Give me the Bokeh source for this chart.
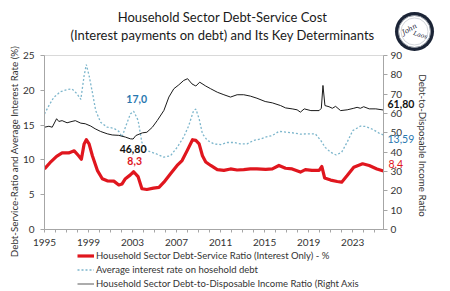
import numpy as np
from bokeh.plotting import figure
from bokeh.layouts import column
from bokeh.models import Range1d, LinearAxis, FixedTicker, Label, Legend, LegendItem
from bokeh.core.properties import value
from bokeh.embed import file_html
from bokeh.resources import INLINE

# ---- data -------------------------------------------------------------
dsr_years = [1995.0, 1995.5, 1996.1, 1996.6, 1997.2, 1997.7, 1998.1, 1998.35, 1998.6, 1998.8,
             1999.05, 1999.35, 1999.8, 2000.25, 2000.7, 2001.3, 2001.75, 2002.05, 2002.35, 2002.8,
             2003.1, 2003.5, 2003.85, 2004.3, 2004.9, 2005.4, 2005.85, 2006.45, 2007.05, 2007.5,
             2007.95, 2008.45, 2008.75, 2009.05, 2009.35, 2009.65, 2010.1, 2010.7, 2011.3, 2011.9,
             2012.5, 2013.1, 2013.7, 2014.3, 2015.1, 2015.7, 2016.3, 2016.9, 2017.5, 2018.25,
             2018.7, 2019.3, 2019.95, 2020.2, 2020.45, 2021.0, 2021.6, 2022.0, 2022.5, 2023.1,
             2023.9, 2024.5, 2025.2, 2025.8]
dsr = [8.7, 9.6, 10.5, 11.0, 11.0, 11.3, 10.6, 10.1, 12.3, 12.9,
       12.3, 10.6, 8.5, 7.3, 7.0, 6.95, 6.4, 6.55, 7.3, 7.85,
       8.3, 7.6, 5.85, 5.75, 5.95, 6.05, 6.8, 8.0, 9.2, 9.9,
       11.3, 12.9, 12.8, 12.3, 10.6, 9.7, 9.2, 8.6, 8.5, 8.7,
       8.55, 8.6, 8.7, 8.7, 8.65, 8.7, 9.2, 8.8, 8.7, 8.25,
       8.6, 8.5, 8.5, 9.05, 7.4, 7.1, 6.9, 6.8, 7.75, 8.95,
       9.45, 9.2, 8.7, 8.4]

rate_years = [1995.0, 1995.4, 1995.85, 1996.45, 1997.05, 1997.5, 1997.95, 1998.3, 1998.6, 1998.8,
              1999.05, 1999.35, 1999.65, 2000.1, 2000.7, 2001.3, 2001.75, 2002.05, 2002.35, 2002.8,
              2003.1, 2003.5, 2003.85, 2004.3, 2005.1, 2005.85, 2006.45, 2007.05, 2007.65, 2008.1,
              2008.55, 2008.75, 2009.05, 2009.35, 2009.8, 2010.4, 2011.0, 2011.6, 2012.2, 2012.8,
              2013.4, 2014.0, 2014.6, 2015.15, 2015.7, 2016.3, 2016.9, 2017.5, 2018.25, 2019.0,
              2019.6, 2020.1, 2020.5, 2021.0, 2021.5, 2022.0, 2022.5, 2023.0, 2023.7, 2024.2,
              2024.8, 2025.5, 2025.8]
rate = [16.6, 17.8, 19.0, 19.8, 20.1, 20.2, 19.5, 18.7, 22.1, 23.7,
        22.1, 19.7, 17.1, 15.4, 14.7, 14.55, 14.1, 13.3, 14.7, 16.6,
        17.0, 15.7, 12.5, 11.35, 10.9, 10.4, 10.6, 11.8, 13.3, 14.9,
        17.1, 17.3, 15.9, 13.75, 12.8, 12.3, 12.2, 12.5, 12.5, 12.3,
        12.3, 12.8, 13.0, 13.3, 13.5, 14.1, 14.0, 13.9, 13.7, 13.75,
        13.75, 12.8, 11.8, 11.1, 10.7, 11.1, 12.55, 14.2, 14.85, 14.8,
        14.4, 13.75, 13.59]

debt_years = [1995.0, 1995.4, 1995.7, 1996.1, 1996.3, 1996.6, 1997.05, 1997.5, 1997.8, 1998.3,
              1998.7, 1999.2, 1999.6, 2000.1, 2000.7, 2001.15, 2001.75, 2002.35, 2002.8, 2003.05,
              2003.3, 2003.9, 2004.3, 2004.8, 2005.25, 2005.85, 2006.3, 2006.75, 2007.2, 2007.65,
              2008.0, 2008.4, 2008.75, 2009.1, 2009.65, 2010.1, 2010.7, 2011.3, 2011.9, 2012.5,
              2013.1, 2013.7, 2014.3, 2015.05, 2015.7, 2016.45, 2016.9, 2017.5, 2017.95, 2018.25,
              2018.6, 2019.2, 2019.95, 2020.15, 2020.3, 2020.48, 2020.85, 2021.15, 2021.45, 2021.9,
              2022.5, 2023.1, 2023.4, 2023.7, 2024.0, 2024.5, 2025.1, 2025.8]
debt = [52.9, 53.4, 52.9, 57.3, 55.9, 56.3, 55.2, 55.9, 56.3, 55.0,
        54.7, 53.5, 52.1, 50.7, 49.5, 48.9, 48.7, 47.8, 46.9, 46.8,
        48.6, 50.0, 50.3, 52.9, 56.4, 61.6, 68.5, 72.8, 74.8, 77.1,
        78.0, 75.3, 74.2, 76.2, 74.2, 72.8, 71.0, 69.7, 68.5, 69.7,
        69.7, 69.0, 67.9, 66.2, 65.5, 64.1, 62.9, 62.4, 61.9, 60.7,
        62.4, 61.5, 61.5, 62.7, 74.5, 64.1, 63.5, 62.7, 63.7, 61.5,
        61.9, 62.7, 63.2, 62.7, 63.5, 62.4, 62.4, 61.8]

year_ticks = list(range(1995, 2026))
year_labels = [1995, 1999, 2003, 2007, 2011, 2015, 2019, 2023]
left_ticks = [0, 5, 10, 15, 20, 25]
right_ticks = [0, 10, 20, 30, 40, 50, 60, 70, 80, 90]

legend_labels = ["Household Sector Debt-Service Ratio (Interest Only) - %",
                 "Average interest rate on hosehold debt",
                 "Household Sector Debt-to-Disposable Income Ratio (Right Axis"]

W, H = 450, 291
X0, X1 = 1995.0, 2025.8
L, R, T, B = 44, 383, 55, 229          # plot frame edges in pixels

FONT = "Lato"
RED = "#E0161E"
BLUE = "#7DB6CC"
BLUE_TXT = "#2A78B0"
AXIS = "#A6A6A6"
TXT = "#333333"
DEBT = "#1A1A1A"

# ---- main chart -------------------------------------------------------
p = figure(width=W, height=H, output_backend="svg", toolbar_location=None,
           x_range=Range1d(X0, X1), y_range=Range1d(0, 25),
           min_border_left=L, min_border_right=W - R, min_border_top=T, min_border_bottom=H - B)
p.frame_align = False
p.xaxis.visible = False
p.yaxis.visible = False
p.grid.visible = False
p.outline_line_color = "#D9D9D9"
p.extra_y_ranges = {"right": Range1d(0, 90)}


def style_axis(ax, standoff):
    ax.axis_line_color = AXIS
    ax.major_tick_line_color = AXIS
    ax.minor_tick_line_color = None
    ax.major_tick_in = 0
    ax.major_tick_out = 4
    ax.major_label_text_font = FONT
    ax.major_label_text_font_size = "10px"
    ax.major_label_text_color = TXT
    ax.major_label_standoff = standoff


bottom = LinearAxis(ticker=FixedTicker(ticks=year_ticks))
bottom.major_label_overrides = {y: (str(y) if y in year_labels else "") for y in year_ticks}
style_axis(bottom, 6)
bottom.major_tick_out = 3
p.add_layout(bottom, "below")

left = LinearAxis(ticker=FixedTicker(ticks=left_ticks))
style_axis(left, 6)
p.add_layout(left, "left")

right = LinearAxis(y_range_name="right", ticker=FixedTicker(ticks=right_ticks))
style_axis(right, 3)
p.add_layout(right, "right")

p.line(dsr_years, dsr, line_color=RED, line_width=3.2, line_join="round")
p.line(rate_years, rate, line_color=BLUE, line_width=1.3, line_dash="2 2")
p.line(debt_years, debt, line_color=DEBT, line_width=1, y_range_name="right")


# value call-outs inside the plot area
def callout(x, y, text, color, dx, dy, rng="default"):
    p.add_layout(Label(x=x, y=y, text=text, x_offset=dx, y_offset=dy, y_range_name=rng,
                       text_align="center", text_baseline="middle", text_font=FONT,
                       text_font_size="10.5px", text_color=color, text_font_style="bold"))


callout(rate_years[20], rate[20], "17,0", BLUE_TXT, 3, 12.5)
callout(debt_years[19], debt[19], "46,80", "#111111", 0, -9.5, rng="right")
callout(dsr_years[20], dsr[20], "8,3", RED, 1, 11)

# ---- overlay: titles, legend, end-of-series values and badge ----------
q = figure(width=W, height=H, output_backend="svg", toolbar_location=None,
           x_range=Range1d(0, W), y_range=Range1d(0, H), min_border=0,
           x_axis_type=None, y_axis_type=None)
q.frame_align = False
q.grid.visible = False
q.outline_line_color = None
q.background_fill_alpha = 0
q.border_fill_alpha = 0
q.margin = (-H, 0, 0, 0)


def sx(x):
    return L + (x - X0) / (X1 - X0) * (R - L)


def sy(v, top):
    # canvas pixel (from the bottom) of value v on an axis running 0..top
    return (H - B) + v / top * (B - T)


q.text(x=[222, 222], y=[H - 16.5, H - 34],
       text=["Household Sector Debt-Service Cost",
             "(Interest payments on debt) and Its Key Determinants"],
       text_align="center", text_baseline="middle", text_font=value(FONT),
       text_font_size=value("13px"), text_color="#1A1A1A")

q.text(x=[13], y=[H - 151], text=["Debt-Service-Ratio and Average Interest Rate (%)"],
       angle=np.pi / 2, text_align="center", text_baseline="middle", text_font=value(FONT),
       text_font_size=value("9.8px"), text_color=TXT)
q.text(x=[422], y=[H - 145], text=["Debt-to-Disposable Income Ratio"],
       angle=-np.pi / 2, text_align="center", text_baseline="middle", text_font=value(FONT),
       text_font_size=value("9.7px"), text_color=TXT)

end_x = sx(X1)
q.text(x=[end_x + 4], y=[sy(debt[-1], 90) + 6.5], text=["61,80"], text_align="left",
       text_baseline="middle", text_font=value(FONT), text_font_size=value("10.5px"),
       text_font_style="bold", text_color="#111111")
q.text(x=[end_x + 4], y=[sy(rate[-1], 25) - 4.5], text=["13,59"], text_align="left",
       text_baseline="middle", text_font=value(FONT), text_font_size=value("10.5px"),
       text_color=BLUE_TXT)
q.text(x=[end_x + 5], y=[sy(dsr[-1], 25) + 7.5], text=["8,4"], text_align="left",
       text_baseline="middle", text_font=value(FONT), text_font_size=value("10.5px"),
       text_color=RED)

# legend keys: single off-canvas points carrying each series' line style
k_dsr = q.line(x=[-50], y=[-50], line_color=RED, line_width=3.2)
k_rate = q.line(x=[-50], y=[-50], line_color=BLUE, line_width=1.3, line_dash="2 2")
k_debt = q.line(x=[-50], y=[-50], line_color="#7F7F7F", line_width=1.3)
legend = Legend(items=[LegendItem(label=lab, renderers=[r])
                       for lab, r in zip(legend_labels, [k_dsr, k_rate, k_debt])],
                location=(77, 1))
legend.background_fill_alpha = 0
legend.border_line_alpha = 0
legend.padding = 0
legend.margin = 0
legend.spacing = 1
legend.label_height = 13
legend.glyph_height = 13
legend.glyph_width = 17
legend.label_standoff = 2
legend.label_text_font = FONT
legend.label_text_font_size = "9.5px"
legend.label_text_color = TXT
q.add_layout(legend, "center")

# round badge
bx, by = 414, H - 31
q.circle(x=[bx], y=[by], radius=19.5, fill_color="#1B2436", line_color=None)
q.circle(x=[bx], y=[by], radius=16, fill_color="#FFFFFF", line_color="#9096A0", line_width=1)
q.circle(x=[bx], y=[by], radius=13.5, fill_color="#FFFFFF", line_color="#C8CCD2", line_width=0.8)
q.text(x=[bx - 5], y=[by + 2], text=["John"], angle=0.5, text_align="center",
       text_baseline="middle", text_font=value("DejaVu Serif"), text_font_style="italic",
       text_font_size=value("7px"), text_color="#1B2436")
q.text(x=[bx + 6], y=[by - 3], text=["Laos"], angle=-0.3, text_align="center",
       text_baseline="middle", text_font=value("DejaVu Serif"), text_font_style="italic",
       text_font_size=value("6px"), text_color="#1B2436")

layout = column(p, q, spacing=0)
open("out.html", "w").write(file_html(layout, INLINE))
